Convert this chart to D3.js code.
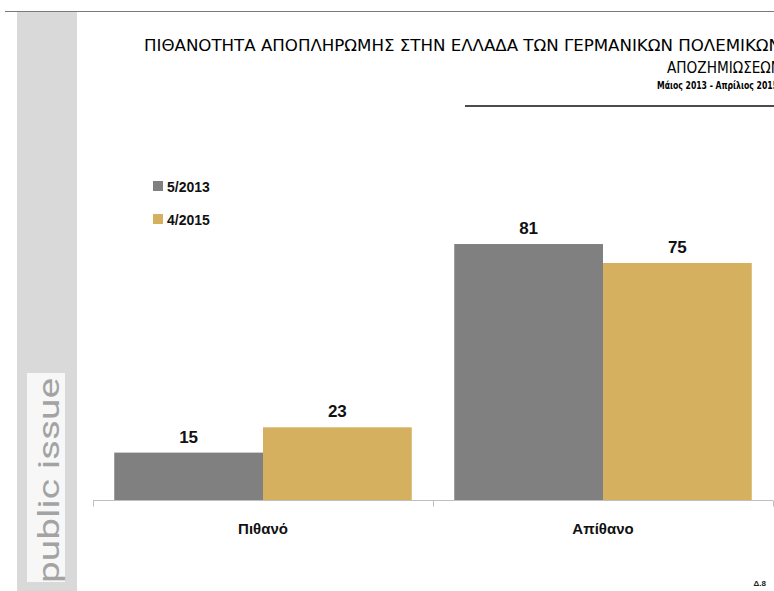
<!DOCTYPE html>
<html><head><meta charset="utf-8">
<script src="https://cdn.jsdelivr.net/npm/d3@7"></script>
<style>body{margin:0;background:#fff;overflow:hidden}svg{display:block}</style>
</head><body>
<script>
const categories = ["Πιθανό", "Απίθανο"];
const seriesNames = ["5/2013", "4/2015"];
const values2013 = [15, 81];
const values2015 = [23, 75];
const titleLines = ["ΠΙΘΑΝΟΤΗΤΑ ΑΠΟΠΛΗΡΩΜΗΣ ΣΤΗΝ ΕΛΛΑΔΑ ΤΩΝ ΓΕΡΜΑΝΙΚΩΝ ΠΟΛΕΜΙΚΩΝ", "ΑΠΟΖΗΜΙΩΣΕΩΝ"];
const subtitle = "Μάιος 2013 - Απρίλιος 2015";
const colors = ["#808080", "#d5b05e"];

const W = 774, H = 591;
const svg = d3.select("body").append("svg").attr("width", W).attr("height", H);

// frame decorations
svg.append("line").attr("x1", 5).attr("x2", W).attr("y1", 11.5).attr("y2", 11.5).attr("stroke", "#7a7a7a").attr("stroke-width", 1);
svg.append("rect").attr("x", 17).attr("y", 12).attr("width", 60).attr("height", H - 12).attr("fill", "#d9d9d9");
svg.append("rect").attr("x", 27).attr("y", 373).attr("width", 38).attr("height", 209).attr("fill", "#f7f7f7");
svg.append("text").attr("transform", "translate(59,480.5) rotate(-90)")
  .attr("text-anchor", "middle").attr("font-family", "Roboto, Lato, sans-serif").attr("font-weight", 400)
  .attr("font-size", 30).attr("fill", "#a3a3a3").attr("textLength", 205).attr("lengthAdjust", "spacingAndGlyphs")
  .text("public issue");

// titles
const tf = "'Liberation Sans Narrow', 'DejaVu Sans Condensed', 'Liberation Sans', sans-serif";
svg.append("text").attr("x", 781).attr("y", 51).attr("text-anchor", "end").attr("font-family", tf)
  .attr("font-size", 16).attr("fill", "#000").attr("textLength", 637).attr("lengthAdjust", "spacingAndGlyphs").text(titleLines[0]);
svg.append("text").attr("x", 781).attr("y", 73).attr("text-anchor", "end").attr("font-family", tf)
  .attr("font-size", 16).attr("fill", "#000").attr("textLength", 114).attr("lengthAdjust", "spacingAndGlyphs").text(titleLines[1]);
svg.append("text").attr("x", 778).attr("y", 89).attr("text-anchor", "end").attr("font-family", tf)
  .attr("font-size", 11).attr("font-weight", "bold").attr("fill", "#000").attr("textLength", 121).attr("lengthAdjust", "spacingAndGlyphs").text(subtitle);
svg.append("line").attr("x1", 465).attr("x2", W).attr("y1", 106).attr("y2", 106).attr("stroke", "#111").attr("stroke-width", 1.6);

// scales
const x0 = d3.scaleBand().domain(categories).range([93, 773]).paddingInner(0.125).paddingOuter(0.0625);
const x1 = d3.scaleBand().domain(seriesNames).range([0, x0.bandwidth()]);
const y = d3.scaleLinear().domain([0, 100]).range([500, 184]);

const data = categories.map((c, i) => ({cat: c, vals: [values2013[i], values2015[i]]}));

const g = svg.append("g");
const groups = g.selectAll("g.grp").data(data).join("g").attr("transform", d => `translate(${x0(d.cat)},0)`);
groups.selectAll("rect").data(d => d.vals.map((v, j) => ({v, s: seriesNames[j], j})))
  .join("rect").attr("x", d => x1(d.s)).attr("width", x1.bandwidth())
  .attr("y", d => y(d.v)).attr("height", d => y(0) - y(d.v)).attr("fill", d => colors[d.j]);
groups.selectAll("text.val").data(d => d.vals.map((v, j) => ({v, s: seriesNames[j], j})))
  .join("text").attr("class", "val").attr("x", d => x1(d.s) + x1.bandwidth() / 2).attr("y", d => y(d.v) - 10)
  .attr("text-anchor", "middle").attr("font-family", "'Liberation Sans', Arial, sans-serif").attr("font-weight", "bold")
  .attr("font-size", 17).attr("fill", "#111").text(d => d.v);

// axis
const ax = svg.append("g").attr("transform", "translate(0,500.5)");
ax.append("line").attr("x1", 93).attr("x2", 773).attr("stroke", "#bfbfbf");
const tickXs = [x0.range()[0], ...categories.slice(1).map(c => x0(c) - x0.step() * x0.paddingInner() / 2), x0.range()[1]];
ax.selectAll("line.tk").data(tickXs).join("line").attr("class", "tk")
  .attr("x1", d => Math.round(d) + 0.5).attr("x2", d => Math.round(d) + 0.5).attr("y1", 0).attr("y2", 6).attr("stroke", "#bfbfbf");
ax.selectAll("text").data(categories).join("text")
  .attr("x", d => x0(d) + x0.bandwidth() / 2).attr("y", 33).attr("text-anchor", "middle")
  .attr("font-family", "'Liberation Sans', Arial, sans-serif").attr("font-weight", "bold").attr("font-size", 15).attr("fill", "#111")
  .text(d => d);

// legend
const lg = svg.append("g");
seriesNames.forEach((s, i) => {
  lg.append("rect").attr("x", 153).attr("y", 181 + i * 33).attr("width", 10).attr("height", 10).attr("fill", colors[i]);
  lg.append("text").attr("x", 167).attr("y", 192 + i * 33).attr("font-family", "'Liberation Sans', Arial, sans-serif")
    .attr("font-weight", "bold").attr("font-size", 14).attr("fill", "#111").text(s);
});

svg.append("text").attr("x", 766).attr("y", 586).attr("text-anchor", "end").attr("font-family", "'Liberation Sans', Arial, sans-serif")
  .attr("font-weight", "bold").attr("font-size", 8).attr("fill", "#222").text("Δ.8");
</script>
</body></html>
